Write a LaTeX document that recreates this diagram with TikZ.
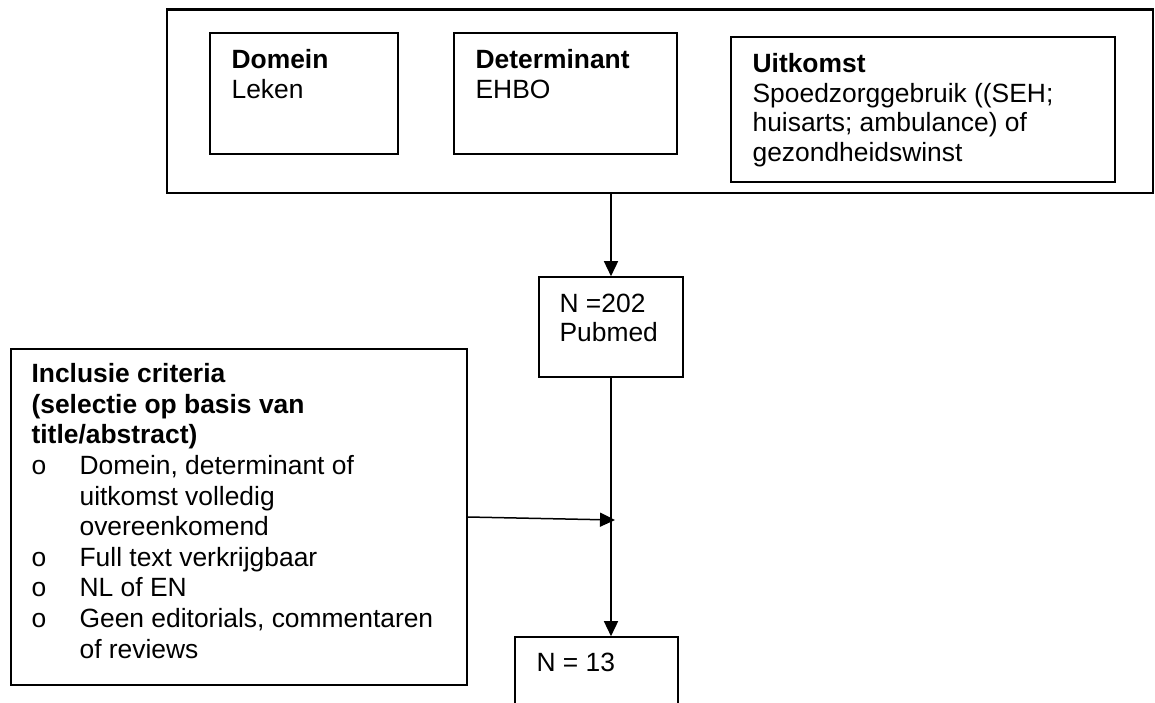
\documentclass[tikz,border=0pt]{standalone}
\usepackage{fontspec}
\setmainfont{Liberation Sans}
\usetikzlibrary{arrows.meta,positioning}

\newcommand{\critem}{\makebox[24pt][l]{o}}
\newcommand{\crindent}{\hspace*{24pt}}

\begin{document}
\begin{tikzpicture}[
    x=0.5pt, y=-0.5pt,
    frame/.style={rectangle, draw, line width=1.1pt, inner sep=0pt},
    box/.style={rectangle, draw, line width=0.8pt, inner sep=0pt},
    txt/.style={inner sep=0pt, align=left, font=\fontsize{13.2}{14.8}\selectfont},
    arrow/.style={-{Triangle[length=7.5pt,width=7pt]}, line width=0.75pt}
]
    \clip (0,0) rectangle (1155,702);

    % === Search question: domain, determinant, outcome ===
    \node[frame, minimum width=493pt, minimum height=91.75pt] (terms) at (660,101.25) {};

    \node[box, minimum width=94pt, minimum height=60.5pt] (domein) at (304,93.5) {};
    \node[txt, below right=8.5pt and 11pt of domein.north west] (domeintxt) {\textbf{Domein}\\Leken};

    \node[box, minimum width=111.5pt, minimum height=60.5pt] (determ) at (565.5,93.5) {};
    \node[txt, below right=8.5pt and 11pt of determ.north west] (determtxt) {\textbf{Determinant}\\EHBO};

    \node[box, minimum width=192pt, minimum height=72.5pt] (uitkomst) at (923,109.5) {};
    \node[txt, below right=8.5pt and 11pt of uitkomst.north west] (uitkomsttxt) {\textbf{Uitkomst}\\
        Spoedzorggebruik ((SEH;\\
        huisarts; ambulance) of\\
        gezondheidswinst};

    % === Search result ===
    \node[box, minimum width=72pt, minimum height=50pt] (pubmed) at (611,327) {};
    \node[txt, below right=8.5pt and 10.5pt of pubmed.north west] (pubmedtxt) {N =202\\Pubmed};

    % === Inclusion criteria ===
    \node[box, minimum width=228pt, minimum height=168pt] (criteria) at (239,517) {};
    \node[txt, font=\fontsize{13.2}{15.3}\selectfont, below right=7.5pt and 10.5pt of criteria.north west] (criteriatxt) {%
        \textbf{Inclusie criteria}\\
        \textbf{(selectie op basis van}\\
        \textbf{title/abstract)}\\
        \critem Domein, determinant of\\
        \crindent uitkomst volledig\\
        \crindent overeenkomend\\
        \critem Full text verkrijgbaar\\
        \critem NL of EN\\
        \critem Geen editorials, commentaren\\
        \crindent of reviews};

    % === Final selection (runs off the page) ===
    \node[box, minimum width=81.5pt, minimum height=50pt] (final) at (596.5,687) {};
    \node[txt, below right=8pt and 11pt of final.north west] (finaltxt) {N = 13};

    % === Arrows ===
    \coordinate (join) at (615,520);
    \draw[arrow] (pubmed.north |- terms.south) -- (pubmed.north);
    \draw[arrow] (pubmed.south) -- (pubmed.south |- final.north);
    \draw[arrow] (criteria.east) -- (join);
\end{tikzpicture}
\end{document}
